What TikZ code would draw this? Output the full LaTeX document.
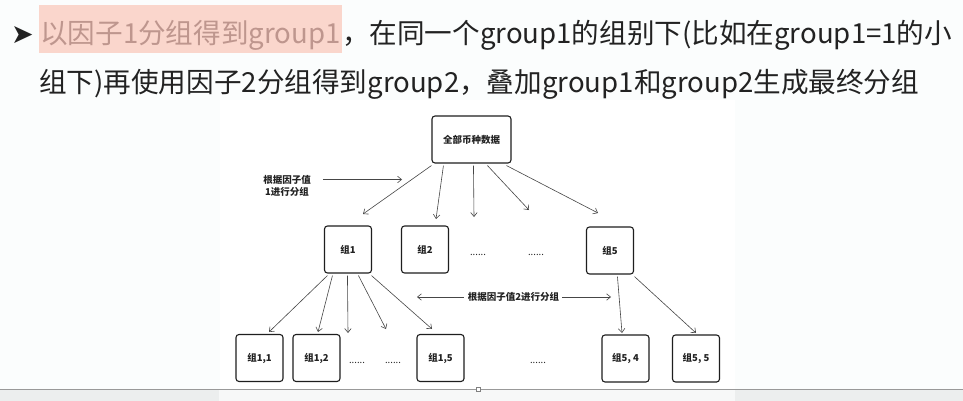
\documentclass[tikz,border=0pt]{standalone}
\usepackage{fontspec}
\setmainfont{Noto Sans CJK SC}
\newfontfamily\symfont{DejaVu Sans}
\usetikzlibrary{arrows.meta,calc}

\definecolor{pagebg}{RGB}{251,253,253}
\definecolor{inkc}{RGB}{34,34,34}
\definecolor{boxc}{RGB}{30,30,30}
\definecolor{arrc}{RGB}{70,70,70}
\definecolor{hlfill}{RGB}{250,214,204}
\definecolor{hltext}{RGB}{190,150,142}
\definecolor{bandc}{RGB}{236,238,238}
\definecolor{bandw}{RGB}{247,248,248}

\tikzset{
  headtext/.style={inner sep=0pt, text=inkc, font=\fontsize{27.6}{31}\selectfont},
  marked/.style={headtext, fill=hlfill, text=hltext, inner xsep=1pt, inner ysep=0pt,
                 text height=38.5pt, text depth=9.5pt},
  gbox/.style={draw=boxc, line width=1.1pt, rounded corners=3pt, fill=white,
               minimum width=47pt, minimum height=47pt, inner sep=0pt,
               text=inkc, font=\fontsize{9.5}{11}\selectfont\bfseries},
  note/.style={inner sep=0pt, text=inkc, font=\fontsize{9.5}{12.5}\selectfont\bfseries, align=center},
  gap/.style={inner sep=0pt, text=inkc, font=\fontsize{9.5}{11}\selectfont},
  arr/.style={draw=arrc, line width=0.6pt, -{Straight Barb[length=4pt,width=6.5pt]}}
}

\begin{document}
\begin{tikzpicture}[x=1pt,y=-1pt]
\useasboundingbox (0,0) rectangle (963,401);

% page and embedded figure area
\fill[pagebg] (0,0) rectangle (963,401);
\fill[white] (220,100) rectangle (735,389);
\fill[bandc] (0,389) rectangle (963,401);
\fill[bandw] (219,389) rectangle (735,401);
\draw[gray!80, line width=0.8pt] (0,389) -- (963,389);
\node[draw=gray, fill=white, line width=0.5pt, minimum size=4pt, inner sep=0pt] (handle) at (478,389) {};

% heading text
\node[anchor=base west, inner sep=0pt, text=inkc, font=\symfont\fontsize{27}{27}\selectfont] (bullet) at (11,44) {➤};
\node[marked, anchor=base west] (h1a) at (39,43.5) {以因子1分组得到group1};
\node[headtext, anchor=base west] (h1b) at (h1a.base east) {，在同一个group1的组别下(比如在group1=1的小};
\node[headtext, anchor=base west] (h2) at (39,92.5) {组下)再使用因子2分组得到group2，叠加group1和group2生成最终分组};

% tree: root
\node[gbox, minimum width=79pt] (all) at (471.5,139.5) {全部币种数据};

% first level
\node[gbox] (g1) at (348,249.5) {组1};
\node[gbox] (g2) at (425,249.5) {组2};
\node[gap, anchor=base] (d1) at (478,255) {......};
\node[gap, anchor=base] (d2) at (536,255) {......};
\node[gbox] (g5) at (610,250.5) {组5};

% second level
\node[gbox] (g11) at (259.5,358) {组1,1};
\node[gbox] (g12) at (316.5,358) {组1,2};
\node[gap, anchor=base] (d3) at (357,363) {......};
\node[gap, anchor=base] (d4) at (393,363) {......};
\node[gbox] (g15) at (440.5,358) {组1,5};
\node[gap, anchor=base] (d5) at (538,363) {......};
\node[gbox] (g54) at (625.5,358.5) {组5, 4};
\node[gbox] (g55) at (696,358.5) {组5, 5};

% explanatory notes
\node[note] (n1) at (287,186) {根据因子值\\1进行分组};
\node[note] (n2) at (513.5,297) {根据因子值2进行分组};

% arrow tips (free ends)
\coordinate (r1) at (363,214);
\coordinate (r2) at (436,219);
\coordinate (r3) at (474,217);
\coordinate (r4) at (529,210);
\coordinate (r5) at (598,213);
\coordinate (s1) at (269,332);
\coordinate (s2) at (318,332);
\coordinate (s3) at (348,333);
\coordinate (s4) at (386,329);
\coordinate (s5) at (432,329);
\coordinate (t1) at (622,333);
\coordinate (t2) at (696,333);
\coordinate (n1tip) at (402,179.5);
\coordinate (n2left) at (417,297);
\coordinate (n2right) at (611,297);

% split of the whole data set
\draw[arr] ($(all.south west)+(0,2)$)  -- (r1);
\draw[arr] ($(all.south west)+(12,2)$) -- (r2);
\draw[arr] ($(all.south west)+(42,2)$) -- (r3);
\draw[arr] ($(all.south west)+(56,2)$) -- (r4);
\draw[arr] ($(all.south west)+(75,2)$) -- (r5);

% split of group 1
\draw[arr] ($(g1.south west)+(3.5,2)$)  -- (s1);
\draw[arr] ($(g1.south west)+(8.5,2)$)  -- (s2);
\draw[arr] ($(g1.south west)+(23.5,2)$) -- (s3);
\draw[arr] ($(g1.south west)+(34.5,2)$) -- (s4);
\draw[arr] ($(g1.south west)+(47.5,2)$) -- (s5);

% split of group 5
\draw[arr] ($(g5.south west)+(31.5,2)$) -- (t1);
\draw[arr] ($(g5.south west)+(48.5,2)$) -- (t2);

% note pointers
\draw[arr] ($(n1.east)+(12,-6.5)$) -- (n1tip);
\draw[arr] ([xshift=-4pt]n2.west) -- (n2left);
\draw[arr] ([xshift=3pt]n2.east) -- (n2right);
\end{tikzpicture}
\end{document}
